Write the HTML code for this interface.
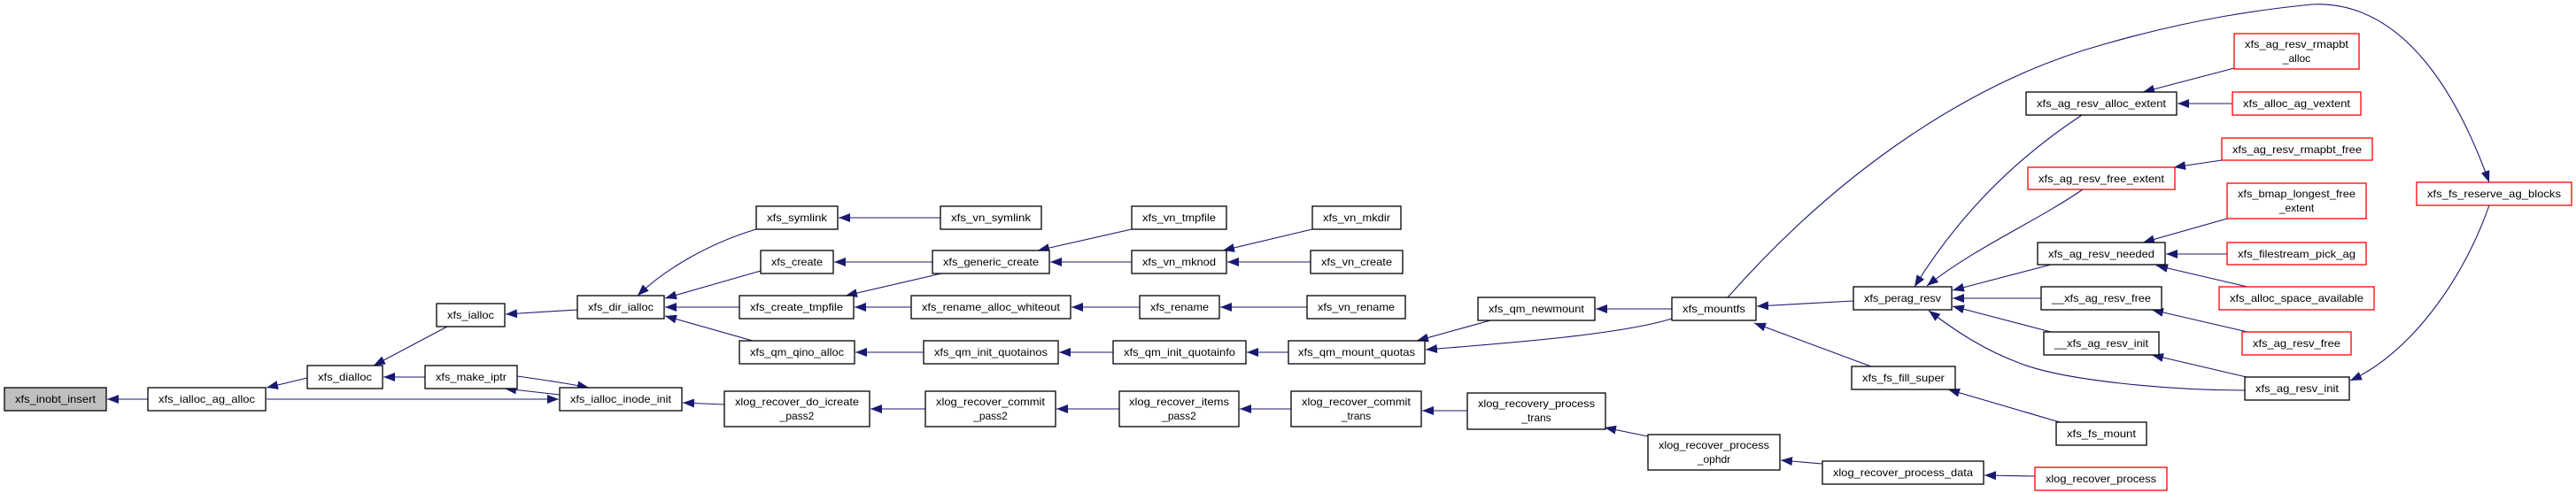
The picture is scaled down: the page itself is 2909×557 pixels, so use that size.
<!DOCTYPE html>
<html><head><meta charset="utf-8"><style>
html,body{margin:0;padding:0;background:#fff;}
svg{display:block;}
text{font-family:"Liberation Sans",sans-serif;font-size:12px;fill:#000;}
.n{fill:#fff;stroke:#000;stroke-width:1.3;}
.g{fill:#bfbfbf;stroke:#000;stroke-width:1.3;}
.r{fill:#fff;stroke:#ff0000;stroke-width:1.3;}
.e{fill:none;stroke:#191970;stroke-width:1.1;marker-end:url(#a);}
</style></head><body>
<svg width="2909" height="557" viewBox="0 0 2909 557" xmlns="http://www.w3.org/2000/svg">
<defs><marker id="a" markerUnits="userSpaceOnUse" markerWidth="14" markerHeight="12" refX="13" refY="5" orient="auto"><path d="M0,0 L13,5 L0,10 Z" fill="#191970"/></marker></defs>
<g>
<path class="e" d="M167,451 L121,451"/>
<path class="e" d="M347,427 L301,438"/>
<path class="e" d="M301,451 L631,451"/>
<path class="e" d="M505,369 L422,413"/>
<path class="e" d="M480,426 L433,426"/>
<path class="e" d="M584,425 C620,430 640,433 665,438"/>
<path class="e" d="M632,446 L570,439"/>
<path class="e" d="M652,350 L571,355"/>
<path class="e" d="M854,259 C800,275 750,305 720,334"/>
<path class="e" d="M859,306 L751,337"/>
<path class="e" d="M835,347 L751,347"/>
<path class="e" d="M850,385 L751,357"/>
<path class="e" d="M1062,246 L947,246"/>
<path class="e" d="M1053,296 L942,296"/>
<path class="e" d="M1063,309 L955,334"/>
<path class="e" d="M1029,347 L965,347"/>
<path class="e" d="M1278,259 L1172,283"/>
<path class="e" d="M1278,296 L1186,296"/>
<path class="e" d="M1482,259 L1381,283"/>
<path class="e" d="M1480,296 L1386,296"/>
<path class="e" d="M1287,347 L1210,347"/>
<path class="e" d="M1476,347 L1378,347"/>
<path class="e" d="M1043,398 L966,398"/>
<path class="e" d="M1257,398 L1196,398"/>
<path class="e" d="M1455,398 L1408,398"/>
<path class="e" d="M818,457 L771,455"/>
<path class="e" d="M1045,462 L983,462"/>
<path class="e" d="M1264,462 L1193,462"/>
<path class="e" d="M1458,462 L1400,462"/>
<path class="e" d="M1657,464 L1606,464"/>
<path class="e" d="M1861,493 L1812,483"/>
<path class="e" d="M2058,524 L2011,520"/>
<path class="e" d="M2298,538 L2241,537"/>
<path class="e" d="M1683,362 L1600,385"/>
<path class="e" d="M1888,360 C1830,378 1700,388 1610,395"/>
<path class="e" d="M1888,349 L1802,349"/>
<path class="e" d="M2093,340 L1984,346"/>
<path class="e" d="M2113,414 L1981,365"/>
<path class="e" d="M1951,336 C2080,190 2230,90 2376,50 C2480,20 2560,10 2611,5 C2720,0 2780,120 2811,206"/>
<path class="e" d="M2351,130 C2290,170 2220,230 2162,324"/>
<path class="e" d="M2352,214 C2300,250 2230,280 2176,323"/>
<path class="e" d="M2316,299 L2205,328"/>
<path class="e" d="M2305,337 L2205,337"/>
<path class="e" d="M2316,375 L2205,346"/>
<path class="e" d="M2535,441 C2450,441 2330,430 2280,410 C2240,395 2210,375 2178,351"/>
<path class="e" d="M2326,477 L2200,440"/>
<path class="e" d="M2523,77 L2420,104"/>
<path class="e" d="M2521,117 L2459,117"/>
<path class="e" d="M2509,181 L2455,189"/>
<path class="e" d="M2515,247 L2420,274"/>
<path class="e" d="M2515,287 L2446,287"/>
<path class="e" d="M2538,324 L2435,300"/>
<path class="e" d="M2538,375 L2430,350"/>
<path class="e" d="M2537,426 L2430,401"/>
<path class="e" d="M2811,232 C2780,320 2720,400 2654,430"/>
</g>
<g text-anchor="middle">
<rect class="g" x="5" y="438" width="115" height="26"/><text x="62.5" y="455" textLength="91" lengthAdjust="spacingAndGlyphs">xfs_inobt_insert</text>
<rect class="n" x="167" y="438" width="133" height="26"/><text x="233.5" y="455" textLength="109" lengthAdjust="spacingAndGlyphs">xfs_ialloc_ag_alloc</text>
<rect class="n" x="347" y="413" width="85" height="26"/><text x="389.5" y="430" textLength="61" lengthAdjust="spacingAndGlyphs">xfs_dialloc</text>
<rect class="n" x="493" y="343" width="77" height="26"/><text x="531.5" y="360" textLength="53" lengthAdjust="spacingAndGlyphs">xfs_ialloc</text>
<rect class="n" x="480" y="413" width="104" height="26"/><text x="532" y="430" textLength="80" lengthAdjust="spacingAndGlyphs">xfs_make_iptr</text>
<rect class="n" x="652" y="334" width="98" height="26"/><text x="701" y="351" textLength="74" lengthAdjust="spacingAndGlyphs">xfs_dir_ialloc</text>
<rect class="n" x="632" y="438" width="138" height="26"/><text x="701" y="455" textLength="114" lengthAdjust="spacingAndGlyphs">xfs_ialloc_inode_init</text>
<rect class="n" x="854" y="233" width="92" height="26"/><text x="900" y="250" textLength="68" lengthAdjust="spacingAndGlyphs">xfs_symlink</text>
<rect class="n" x="1062" y="233" width="114" height="26"/><text x="1119" y="250" textLength="90" lengthAdjust="spacingAndGlyphs">xfs_vn_symlink</text>
<rect class="n" x="1278" y="233" width="107" height="26"/><text x="1331.5" y="250" textLength="83" lengthAdjust="spacingAndGlyphs">xfs_vn_tmpfile</text>
<rect class="n" x="1482" y="233" width="100" height="26"/><text x="1532" y="250" textLength="76" lengthAdjust="spacingAndGlyphs">xfs_vn_mkdir</text>
<rect class="n" x="859" y="283" width="82" height="26"/><text x="900" y="300" textLength="58" lengthAdjust="spacingAndGlyphs">xfs_create</text>
<rect class="n" x="1053" y="283" width="132" height="26"/><text x="1119" y="300" textLength="108" lengthAdjust="spacingAndGlyphs">xfs_generic_create</text>
<rect class="n" x="1278" y="283" width="107" height="26"/><text x="1331.5" y="300" textLength="83" lengthAdjust="spacingAndGlyphs">xfs_vn_mknod</text>
<rect class="n" x="1480" y="283" width="104" height="26"/><text x="1532" y="300" textLength="80" lengthAdjust="spacingAndGlyphs">xfs_vn_create</text>
<rect class="n" x="835" y="334" width="129" height="26"/><text x="899.5" y="351" textLength="105" lengthAdjust="spacingAndGlyphs">xfs_create_tmpfile</text>
<rect class="n" x="1029" y="334" width="180" height="26"/><text x="1119" y="351" textLength="156" lengthAdjust="spacingAndGlyphs">xfs_rename_alloc_whiteout</text>
<rect class="n" x="1287" y="334" width="90" height="26"/><text x="1332" y="351" textLength="66" lengthAdjust="spacingAndGlyphs">xfs_rename</text>
<rect class="n" x="1476" y="334" width="111" height="26"/><text x="1531.5" y="351" textLength="87" lengthAdjust="spacingAndGlyphs">xfs_vn_rename</text>
<rect class="n" x="835" y="385" width="130" height="26"/><text x="900" y="402" textLength="106" lengthAdjust="spacingAndGlyphs">xfs_qm_qino_alloc</text>
<rect class="n" x="1043" y="385" width="152" height="26"/><text x="1119" y="402" textLength="128" lengthAdjust="spacingAndGlyphs">xfs_qm_init_quotainos</text>
<rect class="n" x="1257" y="385" width="150" height="26"/><text x="1332" y="402" textLength="126" lengthAdjust="spacingAndGlyphs">xfs_qm_init_quotainfo</text>
<rect class="n" x="1455" y="385" width="154" height="26"/><text x="1532" y="402" textLength="132" lengthAdjust="spacingAndGlyphs">xfs_qm_mount_quotas</text>
<rect class="n" x="818" y="442" width="164" height="40"/><text x="900" y="458" textLength="140" lengthAdjust="spacingAndGlyphs">xlog_recover_do_icreate</text><text x="900" y="474">_pass2</text>
<rect class="n" x="1045" y="442" width="147" height="40"/><text x="1118.5" y="458" textLength="123" lengthAdjust="spacingAndGlyphs">xlog_recover_commit</text><text x="1118.5" y="474">_pass2</text>
<rect class="n" x="1264" y="442" width="135" height="40"/><text x="1331.5" y="458" textLength="113" lengthAdjust="spacingAndGlyphs">xlog_recover_items</text><text x="1331.5" y="474">_pass2</text>
<rect class="n" x="1458" y="442" width="147" height="40"/><text x="1531.5" y="458" textLength="123" lengthAdjust="spacingAndGlyphs">xlog_recover_commit</text><text x="1531.5" y="474">_trans</text>
<rect class="n" x="1669" y="336" width="132" height="26"/><text x="1735" y="353" textLength="108" lengthAdjust="spacingAndGlyphs">xfs_qm_newmount</text>
<rect class="n" x="1888" y="336" width="95" height="26"/><text x="1935.5" y="353" textLength="71" lengthAdjust="spacingAndGlyphs">xfs_mountfs</text>
<rect class="n" x="2093" y="324" width="111" height="26"/><text x="2148.5" y="341" textLength="87" lengthAdjust="spacingAndGlyphs">xfs_perag_resv</text>
<rect class="n" x="2091" y="414" width="117" height="26"/><text x="2149.5" y="431" textLength="93" lengthAdjust="spacingAndGlyphs">xfs_fs_fill_super</text>
<rect class="n" x="1657" y="444" width="156" height="41"/><text x="1735" y="460" textLength="132" lengthAdjust="spacingAndGlyphs">xlog_recovery_process</text><text x="1735" y="476">_trans</text>
<rect class="n" x="1861" y="491" width="149" height="40"/><text x="1935.5" y="507" textLength="125" lengthAdjust="spacingAndGlyphs">xlog_recover_process</text><text x="1935.5" y="523">_ophdr</text>
<rect class="n" x="2058" y="521" width="182" height="26"/><text x="2149" y="538" textLength="158" lengthAdjust="spacingAndGlyphs">xlog_recover_process_data</text>
<rect class="r" x="2523" y="38" width="141" height="40"/><text x="2593.5" y="54" textLength="117" lengthAdjust="spacingAndGlyphs">xfs_ag_resv_rmapbt</text><text x="2593.5" y="70">_alloc</text>
<rect class="n" x="2288" y="104" width="170" height="26"/><text x="2373" y="121" textLength="146" lengthAdjust="spacingAndGlyphs">xfs_ag_resv_alloc_extent</text>
<rect class="r" x="2521" y="104" width="145" height="26"/><text x="2593.5" y="121" textLength="121" lengthAdjust="spacingAndGlyphs">xfs_alloc_ag_vextent</text>
<rect class="r" x="2509" y="156" width="170" height="25"/><text x="2594" y="173" textLength="146" lengthAdjust="spacingAndGlyphs">xfs_ag_resv_rmapbt_free</text>
<rect class="r" x="2290" y="189" width="166" height="25"/><text x="2373" y="206" textLength="142" lengthAdjust="spacingAndGlyphs">xfs_ag_resv_free_extent</text>
<rect class="r" x="2515" y="207" width="157" height="40"/><text x="2593.5" y="223" textLength="133" lengthAdjust="spacingAndGlyphs">xfs_bmap_longest_free</text><text x="2593.5" y="239">_extent</text>
<rect class="r" x="2729" y="206" width="175" height="26"/><text x="2816.5" y="223" textLength="151" lengthAdjust="spacingAndGlyphs">xfs_fs_reserve_ag_blocks</text>
<rect class="n" x="2301" y="274" width="144" height="25"/><text x="2373" y="291" textLength="120" lengthAdjust="spacingAndGlyphs">xfs_ag_resv_needed</text>
<rect class="r" x="2515" y="274" width="157" height="25"/><text x="2593.5" y="291" textLength="133" lengthAdjust="spacingAndGlyphs">xfs_filestream_pick_ag</text>
<rect class="n" x="2305" y="324" width="136" height="26"/><text x="2373" y="341" textLength="112" lengthAdjust="spacingAndGlyphs">__xfs_ag_resv_free</text>
<rect class="r" x="2506" y="324" width="175" height="26"/><text x="2593.5" y="341" textLength="151" lengthAdjust="spacingAndGlyphs">xfs_alloc_space_available</text>
<rect class="n" x="2308" y="375" width="130" height="26"/><text x="2373" y="392" textLength="106" lengthAdjust="spacingAndGlyphs">__xfs_ag_resv_init</text>
<rect class="r" x="2532" y="375" width="123" height="26"/><text x="2593.5" y="392" textLength="99" lengthAdjust="spacingAndGlyphs">xfs_ag_resv_free</text>
<rect class="n" x="2535" y="426" width="118" height="26"/><text x="2594" y="443" textLength="94" lengthAdjust="spacingAndGlyphs">xfs_ag_resv_init</text>
<rect class="n" x="2322" y="477" width="102" height="26"/><text x="2373" y="494" textLength="78" lengthAdjust="spacingAndGlyphs">xfs_fs_mount</text>
<rect class="r" x="2298" y="528" width="149" height="26"/><text x="2372.5" y="545" textLength="125" lengthAdjust="spacingAndGlyphs">xlog_recover_process</text>
</g>
</svg>
</body></html>
